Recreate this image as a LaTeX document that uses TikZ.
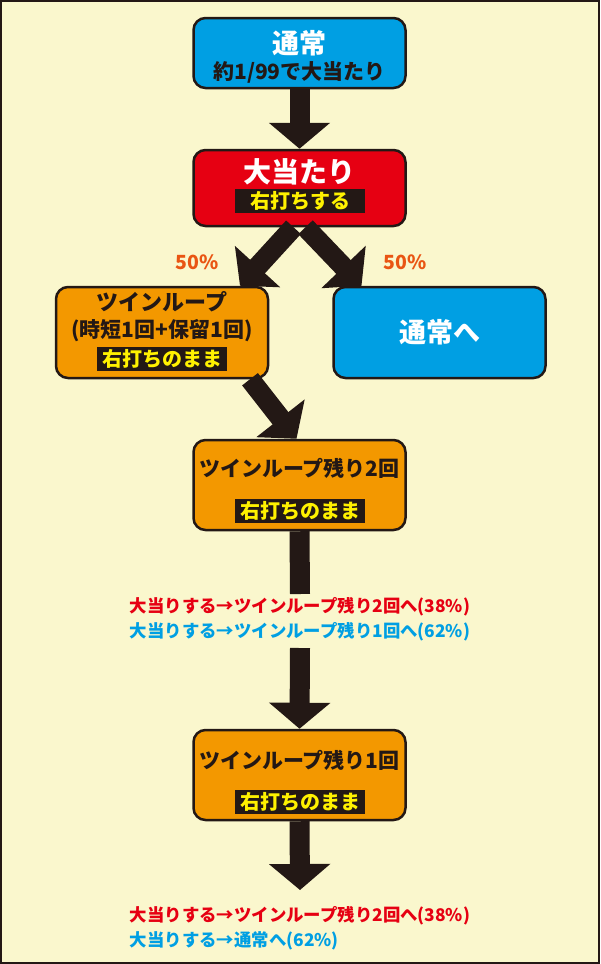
\documentclass[tikz,border=0pt]{standalone}
\usepackage{fontspec}
\setmainfont{Noto Sans CJK JP}
\usetikzlibrary{arrows.meta}
\definecolor{bg}{HTML}{FAF7CD}
\definecolor{cblue}{HTML}{009FE3}
\definecolor{cred}{HTML}{E60012}
\definecolor{corange}{HTML}{F39800}
\definecolor{pct}{HTML}{E95513}
\definecolor{ink}{HTML}{231815}
\definecolor{yel}{HTML}{FFF100}
\tikzset{
 box/.style={draw=ink,line width=2.5pt,rounded corners=12pt,minimum width=212pt,inner sep=0pt,align=center,font=\bfseries},
 band/.style={fill=ink,text=yel,inner sep=0pt,font=\bfseries\fontsize{20}{22}\selectfont,minimum height=24pt},
 arr/.style={ink,line width=20pt,-{Triangle[width=60pt,length=26pt]}},
 bar/.style={ink,line width=20pt},
 note/.style={font=\bfseries\fontsize{17.4}{19}\selectfont,inner sep=0pt}
}
\begin{document}
\begin{tikzpicture}[x=1pt,y=-1pt]
\fill[ink] (0,0) rectangle (600,964);
\fill[bg] (2,2) rectangle (598,962);
\useasboundingbox (0,0) rectangle (600,964);
% boxes
\node[box,fill=cblue,minimum height=70pt] (n1) at (299.5,53) {};
\node[text=white,font=\bfseries\fontsize{27}{30}\selectfont] (n1t) at (299.5,43) {通常};
\node[text=ink,font=\bfseries\fontsize{21}{24}\selectfont] (n1s) at (299.5,72) {約1/99で大当たり};
\node[box,fill=cred,minimum height=76pt] (n2) at (299.5,188) {};
\node[text=white,font=\bfseries\fontsize{28}{31}\selectfont] (n2t) at (299.5,172) {大当たり};
\node[band,minimum width=130pt] (n2b) at (300,201) {右打ちする};
\node[box,fill=corange,minimum height=91pt] (n3) at (162,332.5) {};
\node[text=ink,font=\bfseries\fontsize{22}{24}\selectfont] (n3t) at (162,302) {ツインループ};
\node[text=ink,font=\bfseries\fontsize{21}{24}\selectfont] (n3s) at (162,331) {(時短1回+保留1回)};
\node[band,minimum width=130pt] (n3b) at (162,359) {右打ちのまま};
\node[box,fill=cblue,minimum height=91pt,font=\bfseries\fontsize{27}{30}\selectfont,text=white] (n4) at (439.5,332.5) {通常へ};
\node[box,fill=corange,minimum height=90pt] (n5) at (299.5,485) {};
\node[text=ink,font=\bfseries\fontsize{21}{24}\selectfont] (n5t) at (299.5,468) {ツインループ残り2回};
\node[band,minimum width=130pt] (n5b) at (300,511) {右打ちのまま};
\node[box,fill=corange,minimum height=90pt] (n6) at (299.5,775) {};
\node[text=ink,font=\bfseries\fontsize{21}{24}\selectfont] (n6t) at (299.5,760) {ツインループ残り1回};
\node[band,minimum width=130pt] (n6b) at (300,802) {右打ちのまま};
% labels
\node[note,text=pct,font=\bfseries\fontsize{19.5}{21}\selectfont] (p1) at (197,262) {50\%};
\node[note,text=pct,font=\bfseries\fontsize{19.5}{21}\selectfont] (p2) at (405,262) {50\%};
\node[note,text=cred] (t1) at (300,607) {大当りする→ツインループ残り2回へ(38\%)};
\node[note,text=cblue] (t2) at (300,632) {大当りする→ツインループ残り1回へ(62\%)};
\node[note,text=cred] (t3) at (300,916) {大当りする→ツインループ残り2回へ(38\%)};
\node[note,anchor=west,text=cblue] (t4) at (t3.west|-0,941) {大当りする→通常へ(62\%)};
% connectors
\coordinate (c1) at (300,594);
\coordinate (c2) at (300,648);
\coordinate (c3) at (300,890);
\draw[arr] (n1.south) -- (n2.north);
\draw[arr] ([xshift=-6pt]n2.south) -- ([xshift=78pt]n3.north);
\draw[arr] ([xshift=6pt]n2.south) -- ([xshift=-78pt]n4.north);
\draw[arr] ([xshift=88pt]n3.south) -- ([xshift=-3pt]n5.north);
\draw[bar] (n5.south) -- (c1);
\draw[arr] (c2) -- (n6.north);
\draw[arr] (n6.south) -- (c3);
\end{tikzpicture}
\end{document}
